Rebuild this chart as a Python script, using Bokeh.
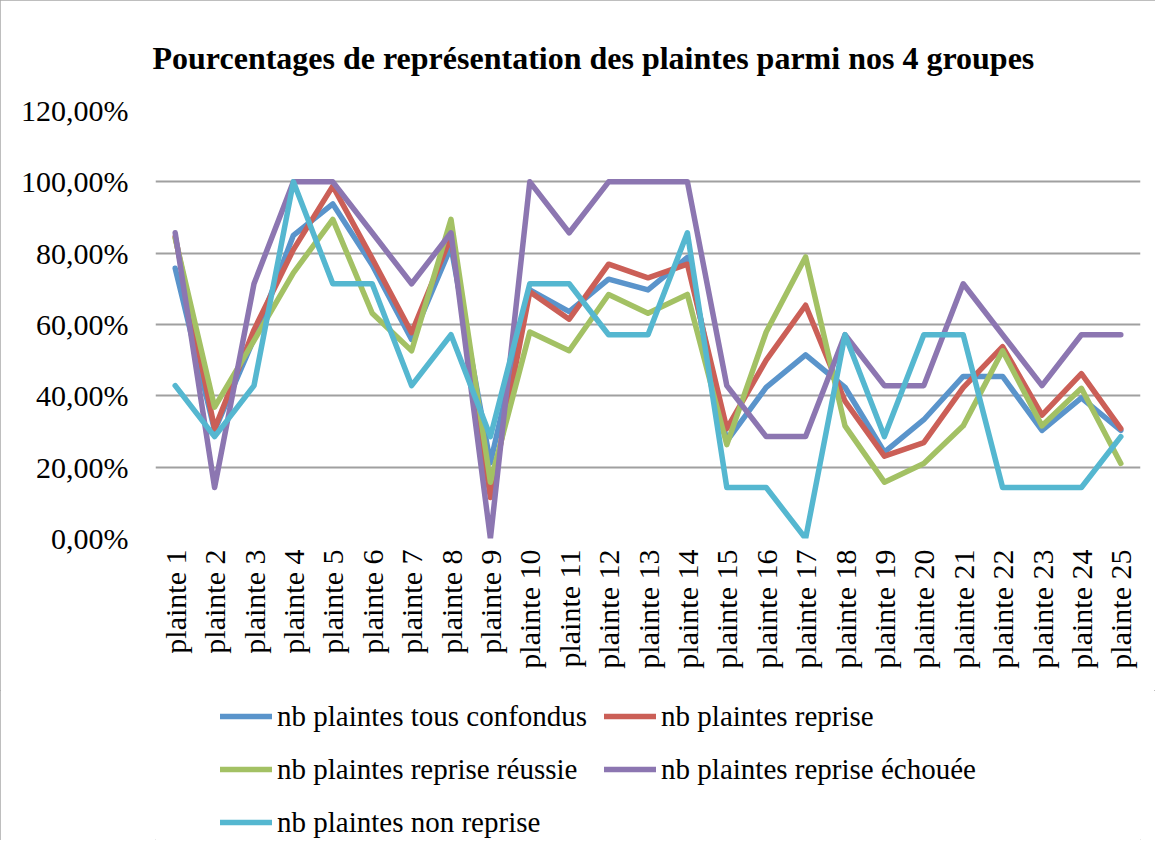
import math
from bokeh.plotting import figure
from bokeh.layouts import column
from bokeh.models import (FactorRange, FixedTicker, CustomJSTickFormatter, Legend,
                          LegendItem, Title, Range1d)
from bokeh.embed import file_html
from bokeh.resources import INLINE

categories = ["plainte 1", "plainte 2", "plainte 3", "plainte 4", "plainte 5",
              "plainte 6", "plainte 7", "plainte 8", "plainte 9", "plainte 10",
              "plainte 11", "plainte 12", "plainte 13", "plainte 14", "plainte 15",
              "plainte 16", "plainte 17", "plainte 18", "plainte 19", "plainte 20",
              "plainte 21", "plainte 22", "plainte 23", "plainte 24", "plainte 25"]

tous_confondus = [75.76, 30.30, 56.00, 85.00, 93.80, 76.70, 55.80, 81.80, 21.20, 69.70,
                  63.60, 72.70, 69.70, 78.80, 27.30, 42.40, 51.50, 42.40, 24.20, 33.30,
                  45.45, 45.45, 30.30, 39.40, 30.30]
reprise = [84.60, 30.80, 58.50, 81.00, 98.80, 78.50, 57.70, 84.60, 11.50, 69.20,
           61.50, 76.90, 73.10, 76.90, 30.80, 50.00, 65.40, 38.50, 23.10, 26.90,
           42.30, 53.80, 34.60, 46.20, 30.80]
reprise_reussie = [84.21, 36.84, 55.50, 74.50, 89.47, 63.16, 52.63, 89.47, 15.79, 57.89,
                   52.63, 68.42, 63.16, 68.42, 26.32, 57.89, 78.95, 31.58, 15.79, 21.05,
                   31.58, 52.63, 31.58, 42.11, 21.05]
reprise_echouee = [85.71, 14.29, 71.43, 100.0, 100.0, 85.71, 71.43, 85.71, 0.0, 100.0,
                   85.71, 100.0, 100.0, 100.0, 42.86, 28.57, 28.57, 57.14, 42.86, 42.86,
                   71.43, 57.14, 42.86, 57.14, 57.14]
non_reprise = [42.86, 28.57, 42.86, 100.0, 71.43, 71.43, 42.86, 57.14, 28.57, 71.43,
               71.43, 57.14, 57.14, 85.71, 14.29, 14.29, 0.0, 57.14, 28.57, 57.14,
               57.14, 14.29, 14.29, 14.29, 28.57]

series_names = ["nb plaintes tous confondus", "nb plaintes reprise",
                "nb plaintes reprise réussie", "nb plaintes reprise échouée",
                "nb plaintes non reprise"]
series_values = [tous_confondus, reprise, reprise_reussie, reprise_echouee, non_reprise]
colors = ["#5a94cb", "#cb5f57", "#a3c164", "#8c76b1", "#55b7d0"]
y_ticks = [0, 20, 40, 60, 80, 100, 120]
title_text = "Pourcentages de représentation des plaintes parmi nos 4 groupes"

SERIF = "Liberation Serif"
LW = 5.5

p = figure(width=1155, height=690, x_range=FactorRange(*categories, range_padding=0),
           y_range=(0, 120), output_backend="svg", toolbar_location=None,
           min_border_left=155, min_border_right=15, min_border_top=110,
           min_border_bottom=152)
p.outline_line_color = None
p.background_fill_color = "white"
p.border_fill_color = "white"

p.title = Title(text=title_text, align="left", offset=-3, standoff=70,
                text_font=SERIF, text_font_style="bold", text_font_size="32px",
                text_color="black")

p.yaxis.ticker = FixedTicker(ticks=y_ticks)
p.yaxis.formatter = CustomJSTickFormatter(
    code="return tick.toFixed(2).replace('.', ',') + '%';")
p.yaxis.axis_line_color = None
p.yaxis.major_tick_line_color = None
p.yaxis.minor_tick_line_color = None
p.yaxis.major_label_standoff = 21
p.yaxis.major_label_text_font = SERIF
p.yaxis.major_label_text_font_size = "30px"
p.yaxis.major_label_text_color = "black"

p.xaxis.axis_line_color = None
p.xaxis.major_tick_line_color = None
p.xaxis.major_label_orientation = math.pi / 2
p.xaxis.major_label_standoff = 5
p.xaxis.major_label_text_font = SERIF
p.xaxis.major_label_text_font_size = "30px"
p.xaxis.major_label_text_color = "black"

p.xgrid.grid_line_color = None
p.ygrid.ticker = FixedTicker(ticks=y_ticks)
p.ygrid.grid_line_color = "#a0a0a0"
p.ygrid.grid_line_width = 2

for name, vals, col in zip(series_names, series_values, colors):
    p.line(categories, vals, line_color=col, line_width=LW, line_join="round",
           line_cap="round")

# legend strip below the chart (its dummy lines lie outside its visible range)
leg = figure(width=1155, height=150, x_range=Range1d(0, 1), y_range=Range1d(0, 1),
             output_backend="svg", toolbar_location=None,
             x_axis_location=None, y_axis_location=None,
             min_border=0)
leg.outline_line_color = None
leg.grid.visible = False
leg.background_fill_color = "white"
leg.border_fill_color = "white"

items = []
for name, col in zip(series_names, colors):
    r = leg.line(x=[-10, -9], y=[-10, -9], line_color=col, line_width=LW,
                 line_cap="round")
    items.append(LegendItem(label=name, renderers=[r]))

legend = Legend(items=items, location=(65, 0), orientation="horizontal", ncols=2,
                label_text_font=SERIF, label_text_font_size="29px",
                label_text_color="black",
                label_standoff=5, glyph_width=52, glyph_height=36, label_height=36,
                spacing=17, padding=0, margin=0, border_line_color=None,
                background_fill_alpha=0)
leg.add_layout(legend, "center")

layout = column(p, leg, spacing=0,
                styles={"outline": "1.5px solid #a8a8a8", "outline-offset": "-1px"})

open("out.html", "w").write(file_html(layout, INLINE))
